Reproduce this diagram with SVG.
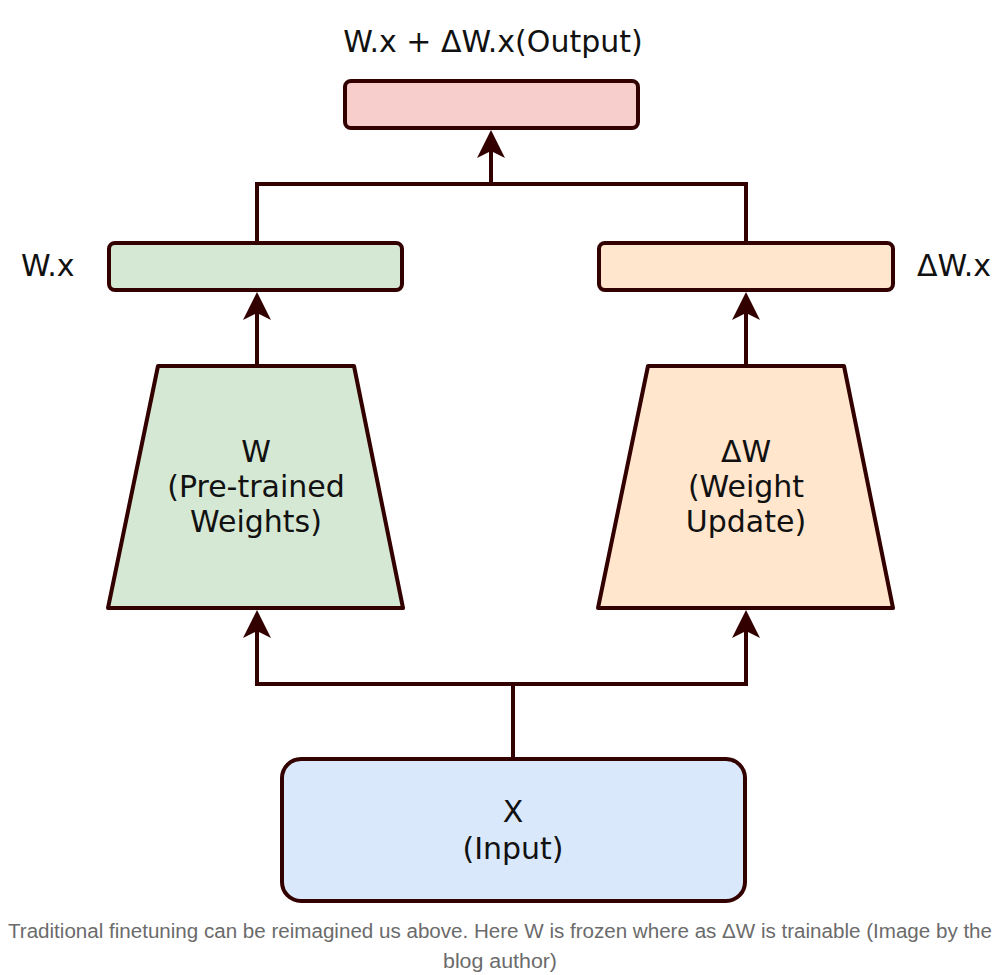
<svg xmlns="http://www.w3.org/2000/svg" width="1001" height="975" viewBox="0 0 1001 975">
<style>
.box{stroke:#330000;stroke-width:4;stroke-linejoin:round}
.lbl{font-family:"DejaVu Sans",Verdana,sans-serif;font-size:30px;fill:#111}
.c{text-anchor:middle}
.edge{fill:none;stroke:#330000;stroke-width:4}
.cap{font-family:"Liberation Sans",Arial,sans-serif;font-size:20px;fill:#6b6b6b}
</style>
<defs>
<marker id="arr" markerUnits="userSpaceOnUse" viewBox="-30 -16 32 32" markerWidth="32" markerHeight="32" refX="-14" refY="0" orient="auto">
<path d="M0,0 L-28,-14 L-21,0 L-28,14 Z" fill="#330000"/>
</marker>
</defs>
<rect width="1001" height="975" fill="#fff"/>
<g id="connectors">
<path class="edge" d="M513,759 V684 M255,684 H748"/>
<path class="edge" d="M257,684 V624" marker-end="url(#arr)"/>
<path class="edge" d="M746,684 V624" marker-end="url(#arr)"/>
<path class="edge" d="M257,366 V306" marker-end="url(#arr)"/>
<path class="edge" d="M746,366 V306" marker-end="url(#arr)"/>
<path class="edge" d="M257,243 V184 H746 V243"/>
<path class="edge" d="M491,184 V144" marker-end="url(#arr)"/>
</g>
<g id="output">
<rect class="box" x="345" y="81" width="293" height="47" rx="6" fill="#f8cecc"/>
<text class="lbl c" x="493" y="52">W.x + ΔW.x(Output)</text>
</g>
<g id="wx">
<rect class="box" x="109" y="243" width="293" height="47" rx="6" fill="#d5e8d4"/>
<text class="lbl" x="21" y="276">W.x</text>
</g>
<g id="dwx">
<rect class="box" x="599" y="243" width="294" height="47" rx="6" fill="#ffe6cc"/>
<text class="lbl" x="917" y="276">ΔW.x</text>
</g>
<g id="w">
<polygon class="box" points="158,366 354,366 403,608 108,608" fill="#d5e8d4" stroke-linejoin="miter"/>
<text class="lbl c" x="256" y="462">W</text>
<text class="lbl c" x="256" y="497">(Pre-trained</text>
<text class="lbl c" x="256" y="532">Weights)</text>
</g>
<g id="dw">
<polygon class="box" points="648,366 844,366 893,608 598,608" fill="#ffe6cc" stroke-linejoin="miter"/>
<text class="lbl c" x="746" y="462">ΔW</text>
<text class="lbl c" x="746" y="497">(Weight</text>
<text class="lbl c" x="746" y="532">Update)</text>
</g>
<g id="input">
<rect class="box" x="282" y="759" width="463" height="142" rx="19" fill="#dae8fc"/>
<text class="lbl c" x="513" y="822">X</text>
<text class="lbl c" x="513" y="859">(Input)</text>
</g>
<g id="caption">
<text class="cap" x="8" y="938" textLength="984" lengthAdjust="spacingAndGlyphs">Traditional finetuning can be reimagined us above. Here W is frozen where as ΔW is trainable (Image by the</text>
<text class="cap" x="443" y="968" textLength="114" lengthAdjust="spacingAndGlyphs">blog author)</text>
</g>
</svg>
